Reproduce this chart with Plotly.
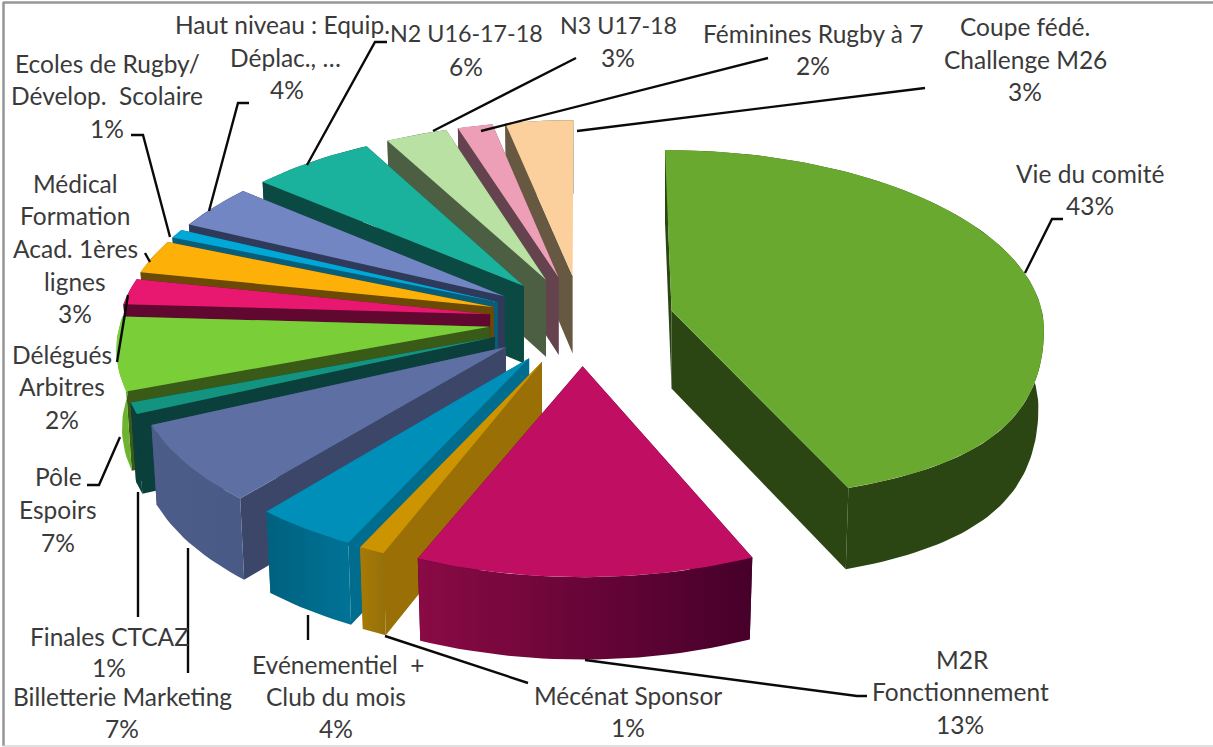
import math
import plotly.graph_objects as go

# ---- data (clockwise from 12 o'clock); labels show them rounded ----
slice_names = ["Vie du comité", "M2R Fonctionnement", "Mécénat Sponsor", "Evénementiel + Club du mois",
               "Billetterie Marketing", "Finales CTCAZ", "Pôle Espoirs", "Délégués Arbitres",
               "Médical Formation Acad. 1ères lignes", "Ecoles de Rugby/ Dévelop. Scolaire",
               "Haut niveau : Equip. Déplac., …", "N2 U16-17-18", "N3 U17-18", "Féminines Rugby à 7",
               "Coupe fédé. Challenge M26"]
slice_values = [43.4, 13.0, 1.0, 4.0, 7.0, 1.0, 6.5, 2.3, 3.0, 0.8, 4.0, 6.0, 3.0, 1.7, 3.3]

# ---- styles: top colour, radial wall colour, outer wall colours (left, right) ----
top_colors = ["#6aa92f", "#c00f63", "#cc9400", "#008fb8", "#5d6fa3", "#129480", "#7ace38", "#e8176f",
              "#fdb108", "#00a8d8", "#7186c3", "#1ab29d", "#b8e1a3", "#ee9fb8", "#fbd09c"]
side_colors = ["#2b4513", "#46002a", "#9a6f05", "#006c8e", "#3c4668", "#0a3f3b", "#3a5a18", "#60082f",
               "#6a4a05", "#0a5d78", "#2f3a5a", "#0b4a42", "#4d5f42", "#64434f", "#675941"]
outer_colors = [("#2b4513", "#2b4513"), ("#8a0a45", "#46002a"), ("#a87a05", "#94700a"), ("#00617f", "#007396"),
                ("#4d5d8a", "#4a5a86"), ("#0a3f3b", "#0a3f3b"), ("#6cb430", "#6cb430"), ("#60082f", "#60082f"),
                ("#6a4a05", "#6a4a05"), ("#0a5d78", "#0a5d78"), ("#2f3a5a", "#2f3a5a"), ("#0b4a42", "#0b4a42"),
                ("#4d5f42", "#4d5f42"), ("#64434f", "#64434f"), ("#675941", "#675941")]
# small horizontal nudge of each slice's rim, to follow the picture's perspective
rim_nudge = [0, 0, 10, 12, 9, 4, 3, 1, 0, 0, 0, 0, 0, 0, 0]

# ---- labels: one text per line, with its centre in page pixels ----
label_lines = [
    ("Vie du comité", 1090, 173), ("43%", 1090, 205),
    ("M2R", 962, 659), ("Fonctionnement", 960, 691), ("13%", 960, 724),
    ("Mécénat Sponsor", 628, 695), ("1%", 628, 727),
    ("Evénementiel  +", 338, 664), ("Club du mois", 336, 696), ("4%", 336, 728),
    ("Billetterie Marketing", 122, 696), ("7%", 122, 728),
    ("Finales CTCAZ", 109, 636), ("1%", 109, 667),
    ("Pôle", 58, 476), ("Espoirs", 58, 509), ("7%", 58, 542),
    ("Délégués", 62, 354), ("Arbitres", 62, 386), ("2%", 62, 419),
    ("Médical", 75, 183), ("Formation", 75, 215), ("Acad. 1ères", 75, 248), ("lignes", 75, 281), ("3%", 75, 313),
    ("Ecoles de Rugby/", 107, 63), ("Dévelop.  Scolaire", 107, 95), ("1%", 107, 128),
    ("Haut niveau : Equip.", 282, 24), ("Déplac., …", 285, 57), ("4%", 287, 89),
    ("N2 U16-17-18", 466, 33), ("6%", 466, 66),
    ("N3 U17-18", 618, 25), ("3%", 618, 57),
    ("Féminines Rugby à 7", 813, 33), ("2%", 813, 65),
    ("Coupe fédé.", 1025, 26), ("Challenge M26", 1025, 59), ("3%", 1025, 91),
]
leaders = [
    [(1025, 273), (1052, 219), (1063, 219)],
    [(585, 660), (857, 696), (867, 696)],
    [(385, 636), (528, 683)],
    [(308, 615), (308, 640)],
    [(188, 548), (188, 673)],
    [(138, 492), (138, 617)],
    [(120, 437), (99, 485), (87, 485)],
    [(128, 295), (117, 362)],
    [(150, 262), (145, 253)],
    [(170, 237), (143, 135), (131, 135)],
    [(209, 211), (238, 103), (249, 103)],
    [(307, 165), (375, 42), (387, 42)],
    [(433, 131), (576, 58)],
    [(481, 131), (768, 58)],
    [(577, 131), (925, 88)],
]

# ---- projection of the exploded pie onto the page ----
CX, CY, RX, RY, PERSP, EXPLODE = 582, 320, 372, 180, 0.10, 0.25


def project(u, v):
    s = 1 / (1 - PERSP * v)
    return CX + RX * u * s, CY + RY * v * s


def wall_h(v):
    return 78 + 3.5 * v


def lower(pt, v, apex_x):
    return apex_x + (pt[0] - apex_x) * 0.985, pt[1] + wall_h(v)


def poly(pts, color=None, grad=None):
    xs = [p[0] for p in pts] + [pts[0][0]]
    ys = [p[1] for p in pts] + [pts[0][1]]
    kw = dict(fillcolor=color) if grad is None else dict(
        fillgradient=dict(type="horizontal", colorscale=[[0, grad[0]], [1, grad[1]]]))
    return go.Scatter(x=xs, y=ys, mode="lines", fill="toself", line=dict(width=0),
                      hoverinfo="skip", showlegend=False, **kw)


total = sum(slice_values)
edges = [0]
for val in slice_values:
    edges.append(edges[-1] + val / total * 2 * math.pi)

traces = []
for i in reversed(range(len(slice_values))):
    t0, t1 = edges[i], edges[i + 1]
    mid = (t0 + t1) / 2
    su, sv = EXPLODE * math.sin(mid), -EXPLODE * math.cos(mid)
    apex = project(su, sv)
    if i == 0:
        apex = (apex[0] - 1, apex[1])
    n = max(4, int((t1 - t0) * 40))
    angs = [t0 + (t1 - t0) * j / n for j in range(n + 1)]
    rim, rim_v = [], []
    for a in angs:
        du, dv = math.sin(a), -math.cos(a)
        if i == 0:  # the large slice sits on its own flatter ellipse
            f = 1 + 0.24 * dv * dv if dv > 0 else 1
            ry = 180 - 8 * max(0, dv)
            rim.append((665 + 379 * du * f, 330 + ry * dv))
            rim_v.append(dv)
        else:
            px, py = project(su + du, sv + dv)
            rim.append((px + rim_nudge[i], py))
            rim_v.append(sv + dv)
    apex_low = lower(apex, sv, apex[0])
    low = [lower(p, v, apex[0]) for p, v in zip(rim, rim_v)]
    start_wall = [rim[0], apex, apex_low, low[0]]
    end_wall = [rim[-1], apex, apex_low, low[-1]]
    walls = [end_wall, start_wall] if math.sin(t0) < 0 else [start_wall, end_wall]
    for w in walls:
        traces.append(poly(w, side_colors[i]))
    oc = outer_colors[i]
    outer = rim + low[::-1]
    traces.append(poly(outer, oc[0]) if oc[0] == oc[1] else poly(outer, grad=oc))
    traces.append(poly([apex] + rim, top_colors[i]))

fig = go.Figure(traces)

shapes = [
    dict(type="line", x0=3.5, x1=3.5, y0=2, y1=746, line=dict(color="#969696", width=2.5)),
    dict(type="line", x0=3, x1=1213, y0=2.5, y1=2.5, line=dict(color="#969696", width=2.5)),
    dict(type="line", x0=3, x1=1213, y0=746, y1=746, line=dict(color="#d4d4d4", width=1.5)),
]
for pts in leaders:
    path = "M" + " L".join(f"{x},{y}" for x, y in pts)
    shapes.append(dict(type="path", path=path, line=dict(color="#0a0a0a", width=2.4)))

annotations = [dict(x=x, y=y, text=t, showarrow=False, xanchor="center", yanchor="middle",
                    font=dict(family="Lato", size=23.3 if t[:2] in ("N2", "N3") else 24.5, color="#3a3a3a"))
               for t, x, y in label_lines]

fig.update_layout(
    width=1213, height=747, margin=dict(l=0, r=0, t=0, b=0),
    paper_bgcolor="white", plot_bgcolor="white", showlegend=False,
    xaxis=dict(range=[0, 1213], visible=False, fixedrange=True),
    yaxis=dict(range=[747, 0], visible=False, fixedrange=True),
    shapes=shapes, annotations=annotations,
)
fig.write_html("out.html", config={"displayModeBar": False},
               post_script="document.body.style.margin='0';document.documentElement.style.overflow='hidden';")
